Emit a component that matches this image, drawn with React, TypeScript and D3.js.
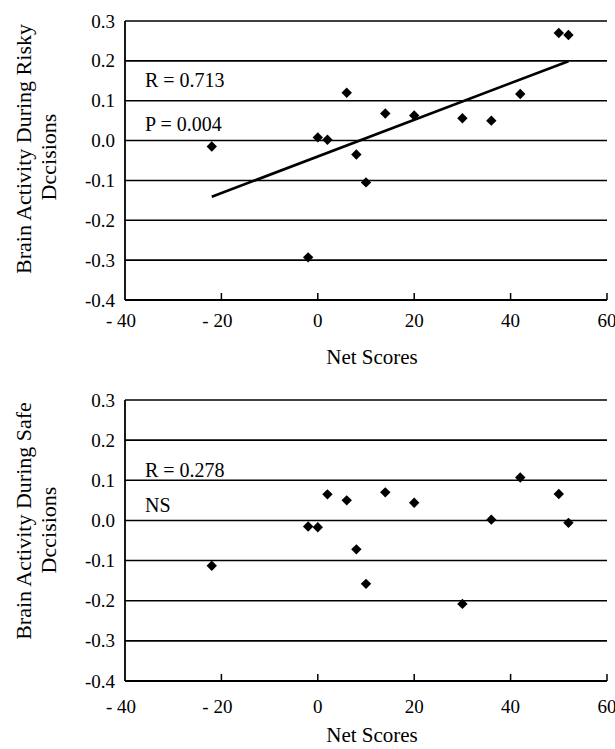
import React from "react";
import * as d3 from "d3";

// ---- data ----
const netScores = [-22, -2, 0, 2, 6, 8, 10, 14, 20, 30, 36, 42, 50, 52];
const riskyActivity = [-0.015, -0.293, 0.008, 0.002, 0.12, -0.035, -0.105, 0.068, 0.063, 0.056, 0.05, 0.117, 0.27, 0.265];
const safeActivity = [-0.113, -0.015, -0.017, 0.065, 0.05, -0.072, -0.158, 0.07, 0.044, -0.208, 0.002, 0.107, 0.066, -0.006];
const xTicks = [-40, -20, 0, 20, 40, 60];
const yTicks = [0.3, 0.2, 0.1, 0.0, -0.1, -0.2, -0.3, -0.4];

const FONT = "'Liberation Serif', 'Times New Roman', serif";

type PanelProps = {
  ys: number[];
  top: number;
  bottom: number;
  title1: string;
  title2: string;
  t1y: number;
  t2y: number;
  notes: string[];
  noteYs: number[];
  fit: boolean;
  tickBase: number;
  xLabelBase: number;
};

function Panel(p: PanelProps) {
  const x = d3.scaleLinear().domain([-40, 60]).range([125, 607]);
  const y = d3.scaleLinear().domain([-0.4, 0.3]).range([p.bottom, p.top]);
  const diamond = d3.symbol(d3.symbolSquare, 54)() as string;
  let fitLine: string | null = null;
  if (p.fit) {
    const mx = d3.mean(netScores) as number;
    const my = d3.mean(p.ys) as number;
    const sxy = d3.sum(netScores, (v, i) => (v - mx) * (p.ys[i] - my));
    const sxx = d3.sum(netScores, (v) => (v - mx) * (v - mx));
    const b = sxy / sxx;
    const a = my - b * mx;
    const [x0, x1] = d3.extent(netScores) as [number, number];
    fitLine = d3.line<number>().x((v) => x(v)).y((v) => y(a + b * v))([x0, x1]);
  }
  return (
    <g>
      {yTicks.slice(0, -1).map((t) => (
        <line key={"g" + t} x1={x(-40)} x2={x(60)} y1={y(t)} y2={y(t)} stroke="#000" strokeWidth={1.6} />
      ))}
      <line x1={x(-40)} x2={x(60)} y1={y(-0.4)} y2={y(-0.4)} stroke="#000" strokeWidth={1.8} />
      <line x1={x(-40)} x2={x(-40)} y1={y(0.3)} y2={y(-0.4)} stroke="#000" strokeWidth={1.8} />
      {xTicks.slice(1).map((t) => (
        <line key={"t" + t} x1={x(t)} x2={x(t)} y1={y(-0.4)} y2={y(-0.4) - 7} stroke="#000" strokeWidth={1.5} />
      ))}
      {yTicks.map((t) => (
        <text key={"yl" + t} x={115} y={y(t) + 6.5} textAnchor="end" fontSize={19} fontFamily={FONT}>
          {t.toFixed(1)}
        </text>
      ))}
      {xTicks.map((t) => (
        <text key={"xl" + t} x={x(t) - (t < 0 ? 4 : 0)} y={p.tickBase} textAnchor="middle" fontSize={19} fontFamily={FONT}>
          {t < 0 ? "- " + Math.abs(t) : String(t)}
        </text>
      ))}
      <text x={372} y={p.xLabelBase} textAnchor="middle" fontSize={21} fontFamily={FONT}>
        Net Scores
      </text>
      <text transform={`translate(31,${p.t1y}) rotate(-90)`} textAnchor="middle" fontSize={22} fontFamily={FONT}>
        {p.title1}
      </text>
      <text transform={`translate(56,${p.t2y}) rotate(-90)`} textAnchor="middle" fontSize={22} fontFamily={FONT}>
        {p.title2}
      </text>
      {p.notes.map((n, i) => (
        <text key={n} x={145} y={p.noteYs[i]} fontSize={20} fontFamily={FONT}>
          {n}
        </text>
      ))}
      {fitLine && <path d={fitLine} stroke="#000" strokeWidth={2.6} fill="none" />}
      {netScores.map((v, i) => (
        <path key={"p" + i} d={diamond} transform={`translate(${x(v)},${y(p.ys[i])}) rotate(45)`} fill="#000" />
      ))}
    </g>
  );
}

export default function App() {
  return (
    <svg width={615} height={749} style={{ position: "absolute", left: 0, top: 0, background: "#fff" }}>
      <rect width={615} height={749} fill="#fff" />
      <Panel
        ys={riskyActivity}
        top={21}
        bottom={300}
        title1="Brain Activity During Risky"
        title2="Dccisions"
        t1y={149}
        t2y={157}
        notes={["R = 0.713", "P = 0.004"]}
        noteYs={[87, 131]}
        fit={true}
        tickBase={327}
        xLabelBase={364}
      />
      <Panel
        ys={safeActivity}
        top={400}
        bottom={681}
        title1="Brain Activity During Safe"
        title2="Dccisions"
        t1y={521}
        t2y={530}
        notes={["R = 0.278", "NS"]}
        noteYs={[477, 512]}
        fit={false}
        tickBase={713}
        xLabelBase={742}
      />
    </svg>
  );
}
